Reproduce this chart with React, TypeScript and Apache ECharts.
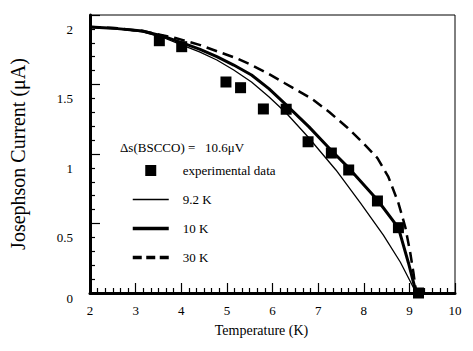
import React, { useEffect, useRef } from "react";
import * as echarts from "echarts";

const FONT = "Liberation Serif";

const expT = [3.52, 4.01, 4.98, 5.3, 5.8, 6.3, 6.78, 7.29, 7.67, 8.3, 8.76, 9.2];
const expI = [1.815, 1.772, 1.518, 1.477, 1.324, 1.322, 1.088, 1.007, 0.885, 0.662, 0.47, 0.0];

const k92T = [2.0, 2.6, 3.15, 3.6, 4.02, 4.4, 4.78, 5.15, 5.54, 5.92, 6.3, 6.78, 7.39, 7.93, 8.43, 8.8, 9.15];
const k92I = [1.914, 1.9, 1.878, 1.838, 1.784, 1.735, 1.676, 1.604, 1.518, 1.412, 1.295, 1.122, 0.885, 0.647, 0.417, 0.223, 0.0];

const k10T = [2.0, 2.6, 3.15, 3.6, 4.02, 4.4, 4.78, 5.15, 5.54, 5.92, 6.3, 6.8, 7.28, 7.67, 8.3, 8.76, 8.98, 9.15];
const k10I = [1.914, 1.902, 1.885, 1.848, 1.8, 1.755, 1.7, 1.64, 1.568, 1.47, 1.353, 1.195, 1.029, 0.9, 0.669, 0.468, 0.216, 0.0];

const k30T = [2.0, 2.6, 3.15, 3.87, 4.4, 4.83, 5.2, 5.54, 5.9, 6.26, 6.85, 7.25, 7.65, 8.0, 8.3, 8.54, 8.76, 8.91, 9.02, 9.09, 9.15];
const k30I = [1.914, 1.905, 1.885, 1.835, 1.785, 1.734, 1.69, 1.64, 1.58, 1.511, 1.4, 1.3, 1.187, 1.075, 0.971, 0.835, 0.647, 0.475, 0.288, 0.144, 0.0];

const legendNames = ["experimental data", "9.2 K", "10 K", "30 K"];

const zip = (a: number[], b: number[]) => a.map((v, i) => [v, b[i]]);

export default function App() {
  const ref = useRef<HTMLDivElement>(null);
  useEffect(() => {
    if (!ref.current) return;
    const chart = echarts.init(ref.current, undefined, { renderer: "svg" });
    const txt = { fontFamily: FONT, fontSize: 13, color: "#000" };
    chart.setOption({
      animation: false,
      backgroundColor: "#fff",
      grid: {
        left: 87,
        right: 18,
        top: 15,
        bottom: 58,
        show: true,
        borderColor: "#000",
        borderWidth: 1,
        backgroundColor: "transparent",
      },
      xAxis: {
        type: "value",
        min: 2,
        max: 10,
        interval: 1,
        name: "Temperature (K)",
        nameLocation: "middle",
        nameGap: 30,
        nameTextStyle: { ...txt, fontSize: 14, padding: [0, 22, 0, 0] },
        axisLine: { lineStyle: { color: "#000", width: 3 } },
        axisTick: { inside: true, length: 10, lineStyle: { color: "#000", width: 1.2 } },
        minorTick: { show: true, splitNumber: 6, length: 5, lineStyle: { color: "#000", width: 1.2 } },
        axisLabel: { ...txt, margin: 11 },
        splitLine: { show: false },
      },
      yAxis: {
        type: "value",
        min: 0,
        max: 2,
        interval: 0.5,
        name: "Josephson Current (μA)",
        nameLocation: "middle",
        nameGap: 62,
        nameTextStyle: { fontFamily: FONT, fontSize: 20, color: "#000" },
        axisLine: { lineStyle: { color: "#000", width: 3 } },
        axisTick: { inside: true, length: 10, lineStyle: { color: "#000", width: 1.2 } },
        minorTick: { show: true, splitNumber: 5, length: 5, lineStyle: { color: "#000", width: 1.2 } },
        axisLabel: {
          ...txt,
          margin: 17,
          verticalAlign: "top",
          lineHeight: 28,
          formatter: (v: number) => (v === 0 ? "{z|0}" : String(v)),
          rich: { z: { ...txt, lineHeight: 10 } },
        },
        splitLine: { show: false },
      },
      legend: {
        orient: "vertical",
        left: 126,
        top: 159,
        itemWidth: 36,
        itemHeight: 11,
        itemGap: 16,
        symbolKeepAspect: true,
        selectedMode: false,
        textStyle: { ...txt, padding: [0, 0, 0, 9] },
        data: [
          { name: legendNames[0], icon: "path://M0,0h10v10h-10z", itemStyle: { color: "#000", opacity: 1 } },
          { name: legendNames[1], itemStyle: { opacity: 0 }, lineStyle: { width: 1.3, color: "#000" } },
          { name: legendNames[2], itemStyle: { opacity: 0 }, lineStyle: { width: 3.5, color: "#000" } },
          { name: legendNames[3], itemStyle: { opacity: 0 }, lineStyle: { width: 3.5, color: "#000", type: [9, 4.5] } },
        ],
      },
      graphic: [
        {
          type: "text",
          x: 120,
          y: 147,
          style: {
            text: "Δs(BSCCO) =   10.6μV",
            font: `13px ${FONT}`,
            fill: "#000",
            textVerticalAlign: "middle",
          },
        },
      ],
      series: [
        {
          name: legendNames[0],
          type: "scatter",
          symbol: "rect",
          symbolSize: 11,
          itemStyle: { color: "#000", opacity: 1 },
          data: zip(expT, expI),
          z: 5,
        },
        {
          name: legendNames[1],
          type: "line",
          symbol: "none",
          lineStyle: { color: "#000", width: 1.3 },
          itemStyle: { color: "#000" },
          data: zip(k92T, k92I),
        },
        {
          name: legendNames[2],
          type: "line",
          symbol: "none",
          lineStyle: { color: "#000", width: 3 },
          itemStyle: { color: "#000" },
          data: zip(k10T, k10I),
        },
        {
          name: legendNames[3],
          type: "line",
          symbol: "none",
          lineStyle: { color: "#000", width: 2.5, type: [11, 6] },
          itemStyle: { color: "#000" },
          data: zip(k30T, k30I),
        },
      ],
    });
    return () => chart.dispose();
  }, []);
  return (
    <div
      ref={ref}
      style={{ position: "fixed", left: 0, top: 0, width: 473, height: 351, background: "#fff" }}
    />
  );
}
